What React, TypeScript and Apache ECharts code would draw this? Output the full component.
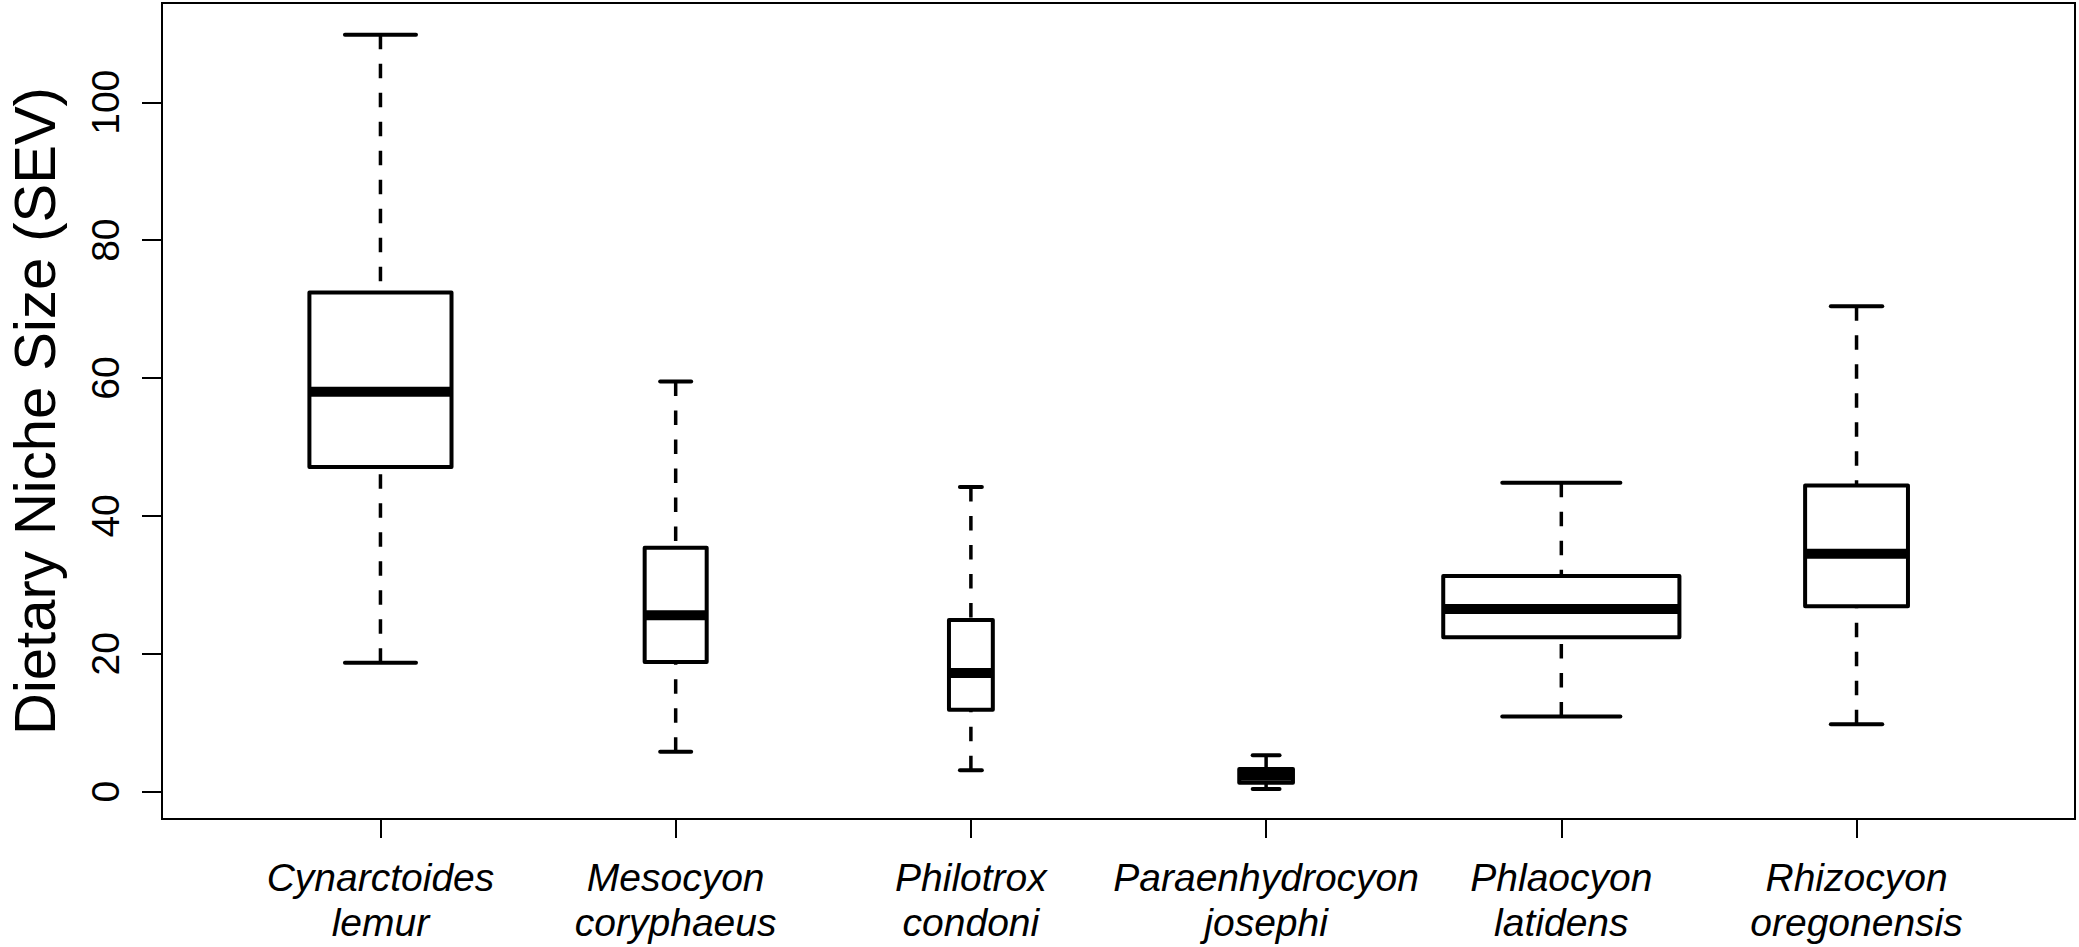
import React, { useEffect, useRef } from "react";
import * as echarts from "echarts";

const categories = [
  "Cynarctoides\nlemur",
  "Mesocyon\ncoryphaeus",
  "Philotrox\ncondoni",
  "Paraenhydrocyon\njosephi",
  "Phlaocyon\nlatidens",
  "Rhizocyon\noregonensis",
];
const lowerWhisker = [18.7, 5.8, 3.1, 0.4, 10.9, 9.8];
const lowerQuartile = [47.1, 18.8, 11.9, 1.3, 22.4, 26.9];
const medians = [58.0, 25.6, 17.2, 2.3, 26.5, 34.5];
const upperQuartile = [72.4, 35.4, 24.9, 3.3, 31.3, 44.4];
const upperWhisker = [109.8, 59.5, 44.2, 5.3, 44.8, 70.4];
const sampleSizes = [21, 4, 2, 3, 58, 11];
const yTicks = [0, 20, 40, 60, 80, 100];
const xTicks = [1, 2, 3, 4, 5, 6];
const yAxisTitle = "Dietary Niche Size (SEV)";

const FONT = "'Liberation Sans', Arial, Helvetica, sans-serif";

export default function App() {
  const ref = useRef<HTMLDivElement>(null);

  useEffect(() => {
    if (!ref.current) return;
    const chart = echarts.init(ref.current, null, { renderer: "svg" });
    const maxN = Math.max(...sampleSizes);
    const data = categories.map((_, i) => [
      i + 1,
      lowerWhisker[i],
      lowerQuartile[i],
      medians[i],
      upperQuartile[i],
      upperWhisker[i],
      0.8 * Math.sqrt(sampleSizes[i] / maxN),
    ]);

    const option: any = {
      animation: false,
      backgroundColor: "#ffffff",
      grid: {
        left: 162,
        right: 4,
        top: 3,
        bottom: 128,
        containLabel: false,
        outerBoundsMode: "none",
        show: true,
        borderColor: "#000",
        borderWidth: 2,
        backgroundColor: "transparent",
      },
      xAxis: {
        type: "value",
        min: 0.26,
        max: 6.74,
        position: "bottom",
        splitLine: { show: false },
        axisLine: { show: false, onZero: false },
        axisTick: {
          show: true,
          customValues: xTicks,
          length: 19,
          lineStyle: { color: "#000", width: 2 },
        },
        axisLabel: {
          customValues: xTicks,
          formatter: (v: number) => categories[Math.round(v) - 1] ?? "",
          fontFamily: FONT,
          fontSize: 39,
          fontStyle: "italic",
          color: "#000",
          lineHeight: 45,
          margin: 36,
        },
      },
      yAxis: {
        type: "value",
        min: -3.96,
        max: 114.4,
        position: "left",
        splitLine: { show: false },
        axisLine: { show: false, onZero: false },
        axisTick: {
          show: true,
          customValues: yTicks,
          length: 20,
          lineStyle: { color: "#000", width: 2 },
        },
        axisLabel: {
          customValues: yTicks,
          rotate: 90,
          fontFamily: FONT,
          fontSize: 39,
          color: "#000",
          margin: 37,
        },
        name: yAxisTitle,
        nameLocation: "middle",
        nameRotate: 90,
        nameGap: 103,
        nameTextStyle: { fontFamily: FONT, fontSize: 58, lineHeight: 50, color: "#000" },
      },
      series: [
        {
          type: "custom",
          data,
          encode: { x: 0, y: [1, 2, 3, 4, 5] },
          renderItem: (params: any, api: any) => {
            const x = api.value(0);
            const lo = api.value(1);
            const q1 = api.value(2);
            const med = api.value(3);
            const q3 = api.value(4);
            const hi = api.value(5);
            const w = api.value(6);
            const pLo = api.coord([x, lo]);
            const pQ1 = api.coord([x, q1]);
            const pMed = api.coord([x, med]);
            const pQ3 = api.coord([x, q3]);
            const pHi = api.coord([x, hi]);
            const halfW = api.size([w, 0])[0] / 2;
            const cx = pMed[0];
            const capHalf = halfW / 2;
            const dashStyle = {
              stroke: "#000",
              lineWidth: 3.5,
              lineDash: [14.5, 14.5],
              lineCap: "butt",
            };
            return {
              type: "group",
              children: [
                {
                  type: "line",
                  shape: { x1: cx, y1: pHi[1], x2: cx, y2: pQ3[1] },
                  style: dashStyle,
                },
                {
                  type: "line",
                  shape: { x1: cx, y1: pLo[1], x2: cx, y2: pQ1[1] },
                  style: dashStyle,
                },
                {
                  type: "line",
                  shape: { x1: cx - capHalf, y1: pHi[1], x2: cx + capHalf, y2: pHi[1] },
                  style: { stroke: "#000", lineWidth: 4, lineCap: "round" },
                },
                {
                  type: "line",
                  shape: { x1: cx - capHalf, y1: pLo[1], x2: cx + capHalf, y2: pLo[1] },
                  style: { stroke: "#000", lineWidth: 4, lineCap: "round" },
                },
                {
                  type: "rect",
                  shape: {
                    x: cx - halfW,
                    y: pQ3[1],
                    width: halfW * 2,
                    height: pQ1[1] - pQ3[1],
                  },
                  style: { fill: "#fff", stroke: "#000", lineWidth: 4, lineJoin: "round" },
                },
                {
                  type: "line",
                  shape: { x1: cx - halfW, y1: pMed[1], x2: cx + halfW, y2: pMed[1] },
                  style: { stroke: "#000", lineWidth: 10, lineCap: "butt" },
                },
              ],
            };
          },
        },
      ],
    };
    chart.setOption(option);
    return () => chart.dispose();
  }, []);

  return (
    <div
      ref={ref}
      style={{ position: "fixed", left: 0, top: 0, width: 2079, height: 947, background: "#fff" }}
    />
  );
}
